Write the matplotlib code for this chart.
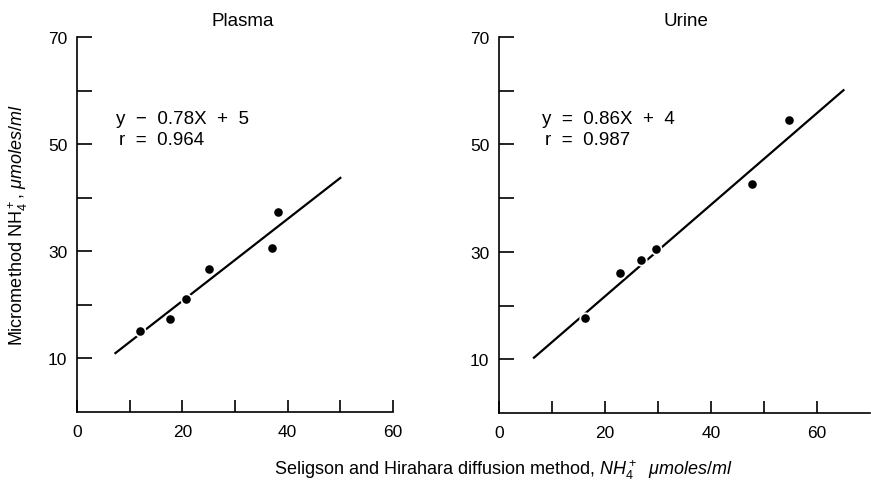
import matplotlib.pyplot as plt

plt.rcParams["font.family"] = ["Liberation Sans", "DejaVu Sans"]
plt.rcParams["mathtext.fontset"] = "custom"
plt.rcParams["mathtext.rm"] = "Liberation Sans"
plt.rcParams["mathtext.it"] = "Liberation Sans:italic"

# plasma
plasma_x = [12.0, 17.6, 20.7, 25.1, 37.1, 38.2]
plasma_y = [15.1, 17.3, 21.1, 26.7, 30.7, 37.4]
plasma_fit_x = [7.3, 50.0]
plasma_fit_y = [11.0, 43.7]

# urine
urine_x = [16.2, 22.9, 26.7, 29.7, 47.7, 54.8]
urine_y = [17.7, 26.1, 28.4, 30.6, 42.7, 54.6]
urine_fit_x = [6.6, 65.0]
urine_fit_y = [10.3, 60.1]

fig = plt.figure(figsize=(8.71, 4.81), dpi=100)

ax1 = fig.add_axes([77 / 871, 1 - 413 / 481, 316 / 871, 375 / 481])
ax2 = fig.add_axes([499 / 871, 1 - 414 / 481, 371 / 871, 376 / 481])


def estilo(ax, xmax):
    ax.set_xlim(0, xmax)
    ax.set_ylim(0, 70)
    ax.spines["top"].set_visible(False)
    ax.spines["right"].set_visible(False)
    ax.spines["left"].set_linewidth(1.2)
    ax.spines["bottom"].set_linewidth(1.2)
    ax.set_xticks(range(0, 61, 10))
    ax.set_xticklabels(["0", "", "20", "", "40", "", "60"])
    ax.set_yticks(range(10, 71, 10))
    ax.set_yticklabels(["10", "", "30", "", "50", "", "70"])
    ax.tick_params(axis="y", direction="in", length=11, width=1.2, pad=7, labelsize=12.5)
    ax.tick_params(axis="x", direction="in", length=9, width=1.2, pad=9, labelsize=12.5)


for ax, xs, ys, fx, fy, xmax in [
    (ax1, plasma_x, plasma_y, plasma_fit_x, plasma_fit_y, 60),
    (ax2, urine_x, urine_y, urine_fit_x, urine_fit_y, 70),
]:
    estilo(ax, xmax)
    ax.plot(fx, fy, color="black", lw=1.6, zorder=2)
    ax.plot(xs, ys, "o", color="black", ms=7.5, mec="white", mew=1.3, zorder=3)

ax1.text(7.4, 54.8, "y  \u2212  0.78X  +  5", fontsize=13.5, va="center")
ax1.text(7.9, 50.9, "r  =  0.964", fontsize=13.5, va="center")
ax2.text(8.1, 54.8, "y  =  0.86X  +  4", fontsize=13.5, va="center")
ax2.text(8.6, 50.9, "r  =  0.987", fontsize=13.5, va="center")

fig.text(243 / 871, 1 - 22 / 481, "Plasma", fontsize=13.5, ha="center", va="center")
fig.text(686 / 871, 1 - 22 / 481, "Urine", fontsize=13.5, ha="center", va="center")

fig.text(18 / 871, 1 - 225 / 481, r"Micromethod NH$_4^+$, $\mathit{\mu moles/ml}$",
         fontsize=13, rotation=90, ha="center", va="center")
fig.text(503 / 871, 1 - 470 / 481,
         r"Seligson and Hirahara diffusion method, $\mathit{NH_4^+\ \ \mu moles/ml}$",
         fontsize=13, ha="center", va="center")

fig.savefig("out.png", dpi=100)
